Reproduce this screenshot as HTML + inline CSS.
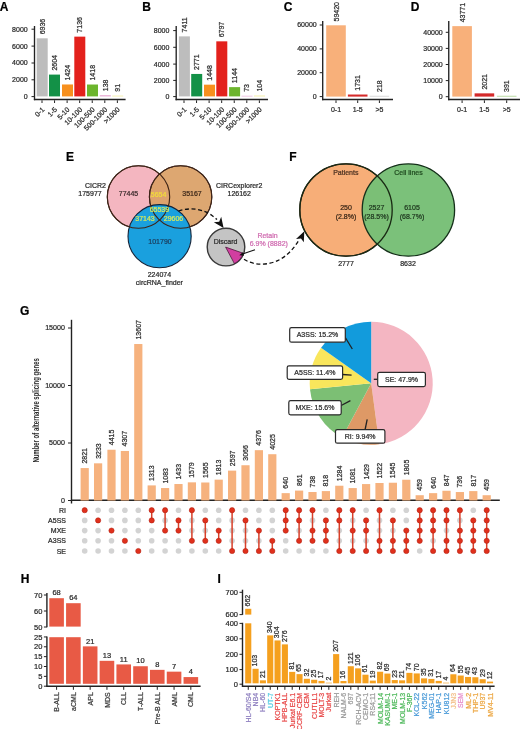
<!DOCTYPE html>
<html><head><meta charset="utf-8"><style>
html,body{margin:0;padding:0;background:#fff;}
body{width:520px;height:729px;overflow:hidden;}
svg{display:block;font-family:"Liberation Sans", sans-serif;will-change:transform;}
</style></head><body>
<svg width="520" height="729" viewBox="0 0 520 729">
<rect x="0" y="0" width="520" height="729" fill="#fff"/>
<text x="-0.30" y="10.60" font-size="12" text-anchor="start" fill="#000" stroke="#000" stroke-width="0.22" font-weight="bold">A</text>
<line x1="34.50" y1="26.00" x2="34.50" y2="100.20" stroke="#222" stroke-width="1.35"/>
<line x1="31.50" y1="29.20" x2="34.50" y2="29.20" stroke="#222" stroke-width="1"/>
<text x="27.70" y="31.60" font-size="7" text-anchor="end" fill="#2a2a2a" stroke="#2a2a2a" stroke-width="0.22">8000</text>
<line x1="31.50" y1="46.10" x2="34.50" y2="46.10" stroke="#222" stroke-width="1"/>
<text x="27.70" y="48.50" font-size="7" text-anchor="end" fill="#2a2a2a" stroke="#2a2a2a" stroke-width="0.22">6000</text>
<line x1="31.50" y1="63.00" x2="34.50" y2="63.00" stroke="#222" stroke-width="1"/>
<text x="27.70" y="65.40" font-size="7" text-anchor="end" fill="#2a2a2a" stroke="#2a2a2a" stroke-width="0.22">4000</text>
<line x1="31.50" y1="79.80" x2="34.50" y2="79.80" stroke="#222" stroke-width="1"/>
<text x="27.70" y="82.20" font-size="7" text-anchor="end" fill="#2a2a2a" stroke="#2a2a2a" stroke-width="0.22">2000</text>
<line x1="31.50" y1="96.60" x2="34.50" y2="96.60" stroke="#222" stroke-width="1"/>
<text x="27.70" y="99.00" font-size="7" text-anchor="end" fill="#2a2a2a" stroke="#2a2a2a" stroke-width="0.22">0</text>
<line x1="33.90" y1="99.60" x2="125.60" y2="99.60" stroke="#222" stroke-width="1.5"/>
<rect x="36.70" y="38.31" width="11.00" height="58.09" fill="#bdbdbd"/>
<text x="44.70" y="34.31" font-size="7" text-anchor="start" fill="#2a2a2a" stroke="#2a2a2a" stroke-width="0.22" transform="rotate(-90 44.70 34.31)">6936</text>
<line x1="42.00" y1="100.30" x2="42.00" y2="103.00" stroke="#222" stroke-width="1"/>
<text x="45.00" y="110.00" font-size="7" text-anchor="end" fill="#2a2a2a" stroke="#2a2a2a" stroke-width="0.22" transform="rotate(-45 45.00 110.00)">0-1</text>
<rect x="49.00" y="74.59" width="11.00" height="21.81" fill="#139147"/>
<text x="57.00" y="70.59" font-size="7" text-anchor="start" fill="#2a2a2a" stroke="#2a2a2a" stroke-width="0.22" transform="rotate(-90 57.00 70.59)">2604</text>
<line x1="54.56" y1="100.30" x2="54.56" y2="103.00" stroke="#222" stroke-width="1"/>
<text x="57.56" y="110.00" font-size="7" text-anchor="end" fill="#2a2a2a" stroke="#2a2a2a" stroke-width="0.22" transform="rotate(-45 57.56 110.00)">1-5</text>
<rect x="62.00" y="84.47" width="11.00" height="11.93" fill="#f7901e"/>
<text x="70.00" y="80.47" font-size="7" text-anchor="start" fill="#2a2a2a" stroke="#2a2a2a" stroke-width="0.22" transform="rotate(-90 70.00 80.47)">1424</text>
<line x1="67.12" y1="100.30" x2="67.12" y2="103.00" stroke="#222" stroke-width="1"/>
<text x="70.12" y="110.00" font-size="7" text-anchor="end" fill="#2a2a2a" stroke="#2a2a2a" stroke-width="0.22" transform="rotate(-45 70.12 110.00)">5-10</text>
<rect x="74.30" y="36.64" width="11.00" height="59.76" fill="#e3211c"/>
<text x="82.30" y="32.64" font-size="7" text-anchor="start" fill="#2a2a2a" stroke="#2a2a2a" stroke-width="0.22" transform="rotate(-90 82.30 32.64)">7136</text>
<line x1="79.68" y1="100.30" x2="79.68" y2="103.00" stroke="#222" stroke-width="1"/>
<text x="82.68" y="110.00" font-size="7" text-anchor="end" fill="#2a2a2a" stroke="#2a2a2a" stroke-width="0.22" transform="rotate(-45 82.68 110.00)">10-100</text>
<rect x="87.00" y="84.52" width="11.00" height="11.88" fill="#6cb52d"/>
<text x="95.00" y="80.52" font-size="7" text-anchor="start" fill="#2a2a2a" stroke="#2a2a2a" stroke-width="0.22" transform="rotate(-90 95.00 80.52)">1418</text>
<line x1="92.24" y1="100.30" x2="92.24" y2="103.00" stroke="#222" stroke-width="1"/>
<text x="95.24" y="110.00" font-size="7" text-anchor="end" fill="#2a2a2a" stroke="#2a2a2a" stroke-width="0.22" transform="rotate(-45 95.24 110.00)">100-500</text>
<rect x="99.80" y="95.24" width="11.00" height="1.16" fill="#e6a3cf"/>
<text x="107.80" y="91.24" font-size="7" text-anchor="start" fill="#2a2a2a" stroke="#2a2a2a" stroke-width="0.22" transform="rotate(-90 107.80 91.24)">138</text>
<line x1="104.80" y1="100.30" x2="104.80" y2="103.00" stroke="#222" stroke-width="1"/>
<text x="107.80" y="110.00" font-size="7" text-anchor="end" fill="#2a2a2a" stroke="#2a2a2a" stroke-width="0.22" transform="rotate(-45 107.80 110.00)">500-1000</text>
<rect x="112.20" y="95.64" width="11.00" height="0.76" fill="#f3ec9a"/>
<text x="120.20" y="91.64" font-size="7" text-anchor="start" fill="#2a2a2a" stroke="#2a2a2a" stroke-width="0.22" transform="rotate(-90 120.20 91.64)">91</text>
<line x1="117.36" y1="100.30" x2="117.36" y2="103.00" stroke="#222" stroke-width="1"/>
<text x="120.36" y="110.00" font-size="7" text-anchor="end" fill="#2a2a2a" stroke="#2a2a2a" stroke-width="0.22" transform="rotate(-45 120.36 110.00)">&gt;1000</text>
<text x="142.30" y="10.60" font-size="12" text-anchor="start" fill="#000" stroke="#000" stroke-width="0.22" font-weight="bold">B</text>
<line x1="176.20" y1="26.00" x2="176.20" y2="100.20" stroke="#222" stroke-width="1.35"/>
<line x1="173.20" y1="30.60" x2="176.20" y2="30.60" stroke="#222" stroke-width="1"/>
<text x="169.40" y="33.00" font-size="7" text-anchor="end" fill="#2a2a2a" stroke="#2a2a2a" stroke-width="0.22">8000</text>
<line x1="173.20" y1="47.30" x2="176.20" y2="47.30" stroke="#222" stroke-width="1"/>
<text x="169.40" y="49.70" font-size="7" text-anchor="end" fill="#2a2a2a" stroke="#2a2a2a" stroke-width="0.22">6000</text>
<line x1="173.20" y1="64.10" x2="176.20" y2="64.10" stroke="#222" stroke-width="1"/>
<text x="169.40" y="66.50" font-size="7" text-anchor="end" fill="#2a2a2a" stroke="#2a2a2a" stroke-width="0.22">4000</text>
<line x1="173.20" y1="80.40" x2="176.20" y2="80.40" stroke="#222" stroke-width="1"/>
<text x="169.40" y="82.80" font-size="7" text-anchor="end" fill="#2a2a2a" stroke="#2a2a2a" stroke-width="0.22">2000</text>
<line x1="173.20" y1="96.60" x2="176.20" y2="96.60" stroke="#222" stroke-width="1"/>
<text x="169.40" y="99.00" font-size="7" text-anchor="end" fill="#2a2a2a" stroke="#2a2a2a" stroke-width="0.22">0</text>
<line x1="175.60" y1="99.60" x2="268.00" y2="99.60" stroke="#222" stroke-width="1.5"/>
<rect x="178.90" y="36.37" width="11.00" height="60.03" fill="#bdbdbd"/>
<text x="186.90" y="32.37" font-size="7" text-anchor="start" fill="#2a2a2a" stroke="#2a2a2a" stroke-width="0.22" transform="rotate(-90 186.90 32.37)">7411</text>
<line x1="184.00" y1="100.30" x2="184.00" y2="103.00" stroke="#222" stroke-width="1"/>
<text x="187.00" y="110.00" font-size="7" text-anchor="end" fill="#2a2a2a" stroke="#2a2a2a" stroke-width="0.22" transform="rotate(-45 187.00 110.00)">0-1</text>
<rect x="191.20" y="73.95" width="11.00" height="22.45" fill="#139147"/>
<text x="199.20" y="69.95" font-size="7" text-anchor="start" fill="#2a2a2a" stroke="#2a2a2a" stroke-width="0.22" transform="rotate(-90 199.20 69.95)">2771</text>
<line x1="196.56" y1="100.30" x2="196.56" y2="103.00" stroke="#222" stroke-width="1"/>
<text x="199.56" y="110.00" font-size="7" text-anchor="end" fill="#2a2a2a" stroke="#2a2a2a" stroke-width="0.22" transform="rotate(-45 199.56 110.00)">1-5</text>
<rect x="204.00" y="84.67" width="11.00" height="11.73" fill="#f7901e"/>
<text x="212.00" y="80.67" font-size="7" text-anchor="start" fill="#2a2a2a" stroke="#2a2a2a" stroke-width="0.22" transform="rotate(-90 212.00 80.67)">1448</text>
<line x1="209.12" y1="100.30" x2="209.12" y2="103.00" stroke="#222" stroke-width="1"/>
<text x="212.12" y="110.00" font-size="7" text-anchor="end" fill="#2a2a2a" stroke="#2a2a2a" stroke-width="0.22" transform="rotate(-45 212.12 110.00)">5-10</text>
<rect x="216.30" y="41.34" width="11.00" height="55.06" fill="#e3211c"/>
<text x="224.30" y="37.34" font-size="7" text-anchor="start" fill="#2a2a2a" stroke="#2a2a2a" stroke-width="0.22" transform="rotate(-90 224.30 37.34)">6797</text>
<line x1="221.68" y1="100.30" x2="221.68" y2="103.00" stroke="#222" stroke-width="1"/>
<text x="224.68" y="110.00" font-size="7" text-anchor="end" fill="#2a2a2a" stroke="#2a2a2a" stroke-width="0.22" transform="rotate(-45 224.68 110.00)">10-100</text>
<rect x="229.10" y="87.13" width="11.00" height="9.27" fill="#6cb52d"/>
<text x="237.10" y="83.13" font-size="7" text-anchor="start" fill="#2a2a2a" stroke="#2a2a2a" stroke-width="0.22" transform="rotate(-90 237.10 83.13)">1144</text>
<line x1="234.24" y1="100.30" x2="234.24" y2="103.00" stroke="#222" stroke-width="1"/>
<text x="237.24" y="110.00" font-size="7" text-anchor="end" fill="#2a2a2a" stroke="#2a2a2a" stroke-width="0.22" transform="rotate(-45 237.24 110.00)">100-500</text>
<rect x="241.50" y="95.81" width="11.00" height="0.59" fill="#e6a3cf"/>
<text x="249.50" y="91.81" font-size="7" text-anchor="start" fill="#2a2a2a" stroke="#2a2a2a" stroke-width="0.22" transform="rotate(-90 249.50 91.81)">73</text>
<line x1="246.80" y1="100.30" x2="246.80" y2="103.00" stroke="#222" stroke-width="1"/>
<text x="249.80" y="110.00" font-size="7" text-anchor="end" fill="#2a2a2a" stroke="#2a2a2a" stroke-width="0.22" transform="rotate(-45 249.80 110.00)">500-1000</text>
<rect x="254.00" y="95.56" width="11.00" height="0.84" fill="#f3ec9a"/>
<text x="262.00" y="91.56" font-size="7" text-anchor="start" fill="#2a2a2a" stroke="#2a2a2a" stroke-width="0.22" transform="rotate(-90 262.00 91.56)">104</text>
<line x1="259.36" y1="100.30" x2="259.36" y2="103.00" stroke="#222" stroke-width="1"/>
<text x="262.36" y="110.00" font-size="7" text-anchor="end" fill="#2a2a2a" stroke="#2a2a2a" stroke-width="0.22" transform="rotate(-45 262.36 110.00)">&gt;1000</text>
<text x="283.80" y="10.80" font-size="12" text-anchor="start" fill="#000" stroke="#000" stroke-width="0.22" font-weight="bold">C</text>
<line x1="322.70" y1="21.00" x2="322.70" y2="100.20" stroke="#222" stroke-width="1.35"/>
<line x1="319.70" y1="25.00" x2="322.70" y2="25.00" stroke="#222" stroke-width="1"/>
<text x="316.70" y="27.40" font-size="7" text-anchor="end" fill="#2a2a2a" stroke="#2a2a2a" stroke-width="0.22">60000</text>
<line x1="319.70" y1="48.90" x2="322.70" y2="48.90" stroke="#222" stroke-width="1"/>
<text x="316.70" y="51.30" font-size="7" text-anchor="end" fill="#2a2a2a" stroke="#2a2a2a" stroke-width="0.22">40000</text>
<line x1="319.70" y1="72.70" x2="322.70" y2="72.70" stroke="#222" stroke-width="1"/>
<text x="316.70" y="75.10" font-size="7" text-anchor="end" fill="#2a2a2a" stroke="#2a2a2a" stroke-width="0.22">20000</text>
<line x1="319.70" y1="96.60" x2="322.70" y2="96.60" stroke="#222" stroke-width="1"/>
<text x="316.70" y="99.00" font-size="7" text-anchor="end" fill="#2a2a2a" stroke="#2a2a2a" stroke-width="0.22">0</text>
<line x1="322.10" y1="99.60" x2="393.00" y2="99.60" stroke="#222" stroke-width="1.5"/>
<rect x="326.20" y="25.30" width="19.60" height="71.30" fill="#f8b07a"/>
<text x="338.50" y="21.50" font-size="7" text-anchor="start" fill="#2a2a2a" stroke="#2a2a2a" stroke-width="0.22" transform="rotate(-90 338.50 21.50)">59420</text>
<line x1="336.00" y1="100.30" x2="336.00" y2="103.00" stroke="#222" stroke-width="1"/>
<text x="336.00" y="111.50" font-size="7" text-anchor="middle" fill="#2a2a2a" stroke="#2a2a2a" stroke-width="0.22">0-1</text>
<rect x="347.90" y="94.52" width="19.60" height="2.08" fill="#d42a2a"/>
<text x="360.20" y="90.72" font-size="7" text-anchor="start" fill="#2a2a2a" stroke="#2a2a2a" stroke-width="0.22" transform="rotate(-90 360.20 90.72)">1731</text>
<line x1="357.70" y1="100.30" x2="357.70" y2="103.00" stroke="#222" stroke-width="1"/>
<text x="357.70" y="111.50" font-size="7" text-anchor="middle" fill="#2a2a2a" stroke="#2a2a2a" stroke-width="0.22">1-5</text>
<rect x="369.60" y="95.80" width="19.60" height="0.80" fill="#cfcfcf"/>
<text x="381.90" y="92.00" font-size="7" text-anchor="start" fill="#2a2a2a" stroke="#2a2a2a" stroke-width="0.22" transform="rotate(-90 381.90 92.00)">218</text>
<line x1="379.40" y1="100.30" x2="379.40" y2="103.00" stroke="#222" stroke-width="1"/>
<text x="379.40" y="111.50" font-size="7" text-anchor="middle" fill="#2a2a2a" stroke="#2a2a2a" stroke-width="0.22">&gt;5</text>
<text x="410.80" y="10.80" font-size="12" text-anchor="start" fill="#000" stroke="#000" stroke-width="0.22" font-weight="bold">D</text>
<line x1="448.75" y1="21.00" x2="448.75" y2="100.20" stroke="#222" stroke-width="1.35"/>
<line x1="445.75" y1="32.30" x2="448.75" y2="32.30" stroke="#222" stroke-width="1"/>
<text x="442.75" y="34.70" font-size="7" text-anchor="end" fill="#2a2a2a" stroke="#2a2a2a" stroke-width="0.22">40000</text>
<line x1="445.75" y1="48.40" x2="448.75" y2="48.40" stroke="#222" stroke-width="1"/>
<text x="442.75" y="50.80" font-size="7" text-anchor="end" fill="#2a2a2a" stroke="#2a2a2a" stroke-width="0.22">30000</text>
<line x1="445.75" y1="64.50" x2="448.75" y2="64.50" stroke="#222" stroke-width="1"/>
<text x="442.75" y="66.90" font-size="7" text-anchor="end" fill="#2a2a2a" stroke="#2a2a2a" stroke-width="0.22">20000</text>
<line x1="445.75" y1="80.60" x2="448.75" y2="80.60" stroke="#222" stroke-width="1"/>
<text x="442.75" y="83.00" font-size="7" text-anchor="end" fill="#2a2a2a" stroke="#2a2a2a" stroke-width="0.22">10000</text>
<line x1="445.75" y1="96.70" x2="448.75" y2="96.70" stroke="#222" stroke-width="1"/>
<text x="442.75" y="99.10" font-size="7" text-anchor="end" fill="#2a2a2a" stroke="#2a2a2a" stroke-width="0.22">0</text>
<line x1="448.15" y1="99.60" x2="520.00" y2="99.60" stroke="#222" stroke-width="1.5"/>
<rect x="452.30" y="26.13" width="19.60" height="70.47" fill="#f8b07a"/>
<text x="464.60" y="22.33" font-size="7" text-anchor="start" fill="#2a2a2a" stroke="#2a2a2a" stroke-width="0.22" transform="rotate(-90 464.60 22.33)">43771</text>
<line x1="462.10" y1="100.30" x2="462.10" y2="103.00" stroke="#222" stroke-width="1"/>
<text x="462.10" y="111.50" font-size="7" text-anchor="middle" fill="#2a2a2a" stroke="#2a2a2a" stroke-width="0.22">0-1</text>
<rect x="474.60" y="93.35" width="19.60" height="3.25" fill="#d42a2a"/>
<text x="486.90" y="89.55" font-size="7" text-anchor="start" fill="#2a2a2a" stroke="#2a2a2a" stroke-width="0.22" transform="rotate(-90 486.90 89.55)">2021</text>
<line x1="484.40" y1="100.30" x2="484.40" y2="103.00" stroke="#222" stroke-width="1"/>
<text x="484.40" y="111.50" font-size="7" text-anchor="middle" fill="#2a2a2a" stroke="#2a2a2a" stroke-width="0.22">1-5</text>
<rect x="496.90" y="95.80" width="19.60" height="0.80" fill="#a9d18e"/>
<text x="509.20" y="92.00" font-size="7" text-anchor="start" fill="#2a2a2a" stroke="#2a2a2a" stroke-width="0.22" transform="rotate(-90 509.20 92.00)">391</text>
<line x1="506.70" y1="100.30" x2="506.70" y2="103.00" stroke="#222" stroke-width="1"/>
<text x="506.70" y="111.50" font-size="7" text-anchor="middle" fill="#2a2a2a" stroke="#2a2a2a" stroke-width="0.22">&gt;5</text>
<text x="66.00" y="161.00" font-size="12" text-anchor="start" fill="#000" stroke="#000" stroke-width="0.22" font-weight="bold">E</text>
<circle cx="138.5" cy="197" r="31.2" fill="#f4b6c0" stroke="#3e2418" stroke-width="1.1"/>
<circle cx="180.6" cy="197" r="31.2" fill="#daa066" fill-opacity="0.93" stroke="#3e2418" stroke-width="1.1"/>
<circle cx="159.6" cy="236.2" r="31.6" fill="#1aa0de" stroke="#14243a" stroke-width="1.1"/>
<circle cx="138.5" cy="197" r="31.2" fill="none" stroke="#3e2418" stroke-width="1.1"/>
<circle cx="180.6" cy="197" r="31.2" fill="none" stroke="#3e2418" stroke-width="1.1"/>
<text x="95.50" y="187.80" font-size="7" text-anchor="middle" fill="#2a2a2a" stroke="#2a2a2a" stroke-width="0.22">CICR2</text>
<text x="90.00" y="196.20" font-size="7" text-anchor="middle" fill="#2a2a2a" stroke="#2a2a2a" stroke-width="0.22">175977</text>
<text x="128.50" y="196.30" font-size="7" text-anchor="middle" fill="#3a2a2a" stroke="#3a2a2a" stroke-width="0.22">77445</text>
<text x="158.60" y="197.00" font-size="7" text-anchor="middle" fill="#f2dd3a" stroke="#f2dd3a" stroke-width="0.22">5654</text>
<text x="192.00" y="196.30" font-size="7" text-anchor="middle" fill="#3a2618" stroke="#3a2618" stroke-width="0.22">35167</text>
<text x="159.40" y="212.10" font-size="7" text-anchor="middle" fill="#d8ea5a" stroke="#d8ea5a" stroke-width="0.22">65539</text>
<text x="145.00" y="221.00" font-size="7" text-anchor="middle" fill="#d8ea5a" stroke="#d8ea5a" stroke-width="0.22">37143</text>
<text x="173.50" y="221.00" font-size="7" text-anchor="middle" fill="#d8ea5a" stroke="#d8ea5a" stroke-width="0.22">29606</text>
<text x="160.00" y="244.30" font-size="7" text-anchor="middle" fill="#1c3c5c" stroke="#1c3c5c" stroke-width="0.22">101790</text>
<text x="239.20" y="187.80" font-size="7" text-anchor="middle" fill="#2a2a2a" stroke="#2a2a2a" stroke-width="0.22">CIRCexplorer2</text>
<text x="239.20" y="196.20" font-size="7" text-anchor="middle" fill="#2a2a2a" stroke="#2a2a2a" stroke-width="0.22">126162</text>
<text x="159.40" y="277.00" font-size="7" text-anchor="middle" fill="#2a2a2a" stroke="#2a2a2a" stroke-width="0.22">224074</text>
<text x="159.40" y="284.80" font-size="7" text-anchor="middle" fill="#2a2a2a" stroke="#2a2a2a" stroke-width="0.22">circRNA_finder</text>
<path d="M178.5 211 C190 207 203 209 212 215.5 L217 219.5" fill="none" stroke="#111" stroke-width="1.3" stroke-dasharray="4 2.6"/>
<path d="M223.6 228 L213.8 222.2 L219.2 221.8 L221.2 216.8 Z" fill="#111"/>
<circle cx="226" cy="247.1" r="18.8" fill="#c4c4c4" stroke="#3a3a3a" stroke-width="1.4"/>
<path d="M225.6 247.1 L243.3 253.3 A18.8 18.8 0 0 1 234.4 263.6 Z" fill="#d23ea0" stroke="#4a1a3a" stroke-width="0.8"/>
<text x="225.60" y="243.80" font-size="7" text-anchor="middle" fill="#2a2a2a" stroke="#2a2a2a" stroke-width="0.22">Discard</text>
<path d="M255 249.8 L242.5 254.1" fill="none" stroke="#111" stroke-width="1.1"/>
<path d="M239.3 255.3 L242.7 252.2 L243.9 255.7 Z" fill="#111"/>
<text x="267.50" y="238.00" font-size="7" text-anchor="middle" fill="#d06cb0" stroke="#d06cb0" stroke-width="0.22">Retain</text>
<text x="268.80" y="246.20" font-size="7" text-anchor="middle" fill="#d06cb0" stroke="#d06cb0" stroke-width="0.22">6.9% (8882)</text>
<path d="M244 259.3 C252 264.5 262 265 270 263.2 C284 260 293 250 299 240" fill="none" stroke="#111" stroke-width="1.3" stroke-dasharray="4 2.6"/>
<path d="M304.3 231.3 L303.8 242.3 L301.0 238.6 L296.0 238.9 Z" fill="#111"/>
<text x="289.30" y="160.70" font-size="12" text-anchor="start" fill="#000" stroke="#000" stroke-width="0.22" font-weight="bold">F</text>
<circle cx="346" cy="210" r="46.2" fill="#f7ae78" stroke="#2a1a10" stroke-width="1.3"/>
<circle cx="408.4" cy="210" r="46.2" fill="#77bf76" fill-opacity="0.97" stroke="#15301a" stroke-width="1.3"/>
<circle cx="346" cy="210" r="46.2" fill="none" stroke="#1a2a14" stroke-width="1.3"/>
<text x="345.80" y="175.40" font-size="7" text-anchor="middle" fill="#4a3020" stroke="#4a3020" stroke-width="0.22">Patients</text>
<text x="408.50" y="175.40" font-size="7" text-anchor="middle" fill="#1f4a1f" stroke="#1f4a1f" stroke-width="0.22">Cell lines</text>
<text x="346.00" y="210.20" font-size="7" text-anchor="middle" fill="#3a2616" stroke="#3a2616" stroke-width="0.22">250</text>
<text x="346.00" y="219.40" font-size="7" text-anchor="middle" fill="#3a2616" stroke="#3a2616" stroke-width="0.22">(2.8%)</text>
<text x="376.50" y="210.20" font-size="7" text-anchor="middle" fill="#1e361e" stroke="#1e361e" stroke-width="0.22">2527</text>
<text x="376.50" y="219.40" font-size="7" text-anchor="middle" fill="#1e361e" stroke="#1e361e" stroke-width="0.22">(28.5%)</text>
<text x="412.00" y="210.20" font-size="7" text-anchor="middle" fill="#1e361e" stroke="#1e361e" stroke-width="0.22">6105</text>
<text x="412.00" y="219.40" font-size="7" text-anchor="middle" fill="#1e361e" stroke="#1e361e" stroke-width="0.22">(68.7%)</text>
<text x="346.00" y="266.30" font-size="7" text-anchor="middle" fill="#2a2a2a" stroke="#2a2a2a" stroke-width="0.22">2777</text>
<text x="408.00" y="266.30" font-size="7" text-anchor="middle" fill="#2a2a2a" stroke="#2a2a2a" stroke-width="0.22">8632</text>
<text x="20.00" y="314.60" font-size="12" text-anchor="start" fill="#000" stroke="#000" stroke-width="0.22" font-weight="bold">G</text>
<line x1="71.50" y1="319.80" x2="71.50" y2="503.50" stroke="#222" stroke-width="1.4"/>
<line x1="68.00" y1="328.00" x2="71.50" y2="328.00" stroke="#222" stroke-width="1"/>
<text x="64.90" y="330.40" font-size="7.1" text-anchor="end" fill="#2a2a2a" stroke="#2a2a2a" stroke-width="0.22">15000</text>
<line x1="68.00" y1="385.50" x2="71.50" y2="385.50" stroke="#222" stroke-width="1"/>
<text x="64.90" y="387.90" font-size="7.1" text-anchor="end" fill="#2a2a2a" stroke="#2a2a2a" stroke-width="0.22">10000</text>
<line x1="68.00" y1="443.00" x2="71.50" y2="443.00" stroke="#222" stroke-width="1"/>
<text x="64.90" y="445.40" font-size="7.1" text-anchor="end" fill="#2a2a2a" stroke="#2a2a2a" stroke-width="0.22">5000</text>
<line x1="68.00" y1="500.50" x2="71.50" y2="500.50" stroke="#222" stroke-width="1"/>
<text x="64.90" y="502.90" font-size="7.1" text-anchor="end" fill="#2a2a2a" stroke="#2a2a2a" stroke-width="0.22">0</text>
<line x1="70.90" y1="500.20" x2="499.80" y2="500.20" stroke="#222" stroke-width="1.5"/>
<text x="0" y="0" font-size="9.6" font-weight="bold" text-anchor="middle" fill="#2a2a2a" transform="translate(38.6 410.4) rotate(-90) scale(0.622 1)">Number of alternative splicing genes</text>
<text x="66.00" y="512.70" font-size="7" text-anchor="end" fill="#2a2a2a" stroke="#2a2a2a" stroke-width="0.22">RI</text>
<text x="66.00" y="522.90" font-size="7" text-anchor="end" fill="#2a2a2a" stroke="#2a2a2a" stroke-width="0.22">A5SS</text>
<text x="66.00" y="533.10" font-size="7" text-anchor="end" fill="#2a2a2a" stroke="#2a2a2a" stroke-width="0.22">MXE</text>
<text x="66.00" y="543.30" font-size="7" text-anchor="end" fill="#2a2a2a" stroke="#2a2a2a" stroke-width="0.22">A3SS</text>
<text x="66.00" y="553.50" font-size="7" text-anchor="end" fill="#2a2a2a" stroke="#2a2a2a" stroke-width="0.22">SE</text>
<rect x="80.60" y="468.06" width="8.20" height="32.44" fill="#f6b27e"/>
<text x="87.20" y="463.56" font-size="7" text-anchor="start" fill="#2a2a2a" stroke="#2a2a2a" stroke-width="0.22" transform="rotate(-90 87.20 463.56)">2821</text>
<circle cx="84.70" cy="520.4" r="2.8" fill="#d3d3d3"/>
<circle cx="84.70" cy="530.6" r="2.8" fill="#d3d3d3"/>
<circle cx="84.70" cy="540.8" r="2.8" fill="#d3d3d3"/>
<circle cx="84.70" cy="551.0" r="2.8" fill="#d3d3d3"/>
<circle cx="84.70" cy="510.2" r="2.6" fill="#e0301c" stroke="#b52212" stroke-width="0.6"/>
<rect x="94.00" y="463.32" width="8.20" height="37.18" fill="#f6b27e"/>
<text x="100.60" y="458.82" font-size="7" text-anchor="start" fill="#2a2a2a" stroke="#2a2a2a" stroke-width="0.22" transform="rotate(-90 100.60 458.82)">3233</text>
<circle cx="98.10" cy="510.2" r="2.8" fill="#d3d3d3"/>
<circle cx="98.10" cy="530.6" r="2.8" fill="#d3d3d3"/>
<circle cx="98.10" cy="540.8" r="2.8" fill="#d3d3d3"/>
<circle cx="98.10" cy="551.0" r="2.8" fill="#d3d3d3"/>
<circle cx="98.10" cy="520.4" r="2.6" fill="#e0301c" stroke="#b52212" stroke-width="0.6"/>
<rect x="107.40" y="449.73" width="8.20" height="50.77" fill="#f6b27e"/>
<text x="114.00" y="445.23" font-size="7" text-anchor="start" fill="#2a2a2a" stroke="#2a2a2a" stroke-width="0.22" transform="rotate(-90 114.00 445.23)">4415</text>
<circle cx="111.50" cy="510.2" r="2.8" fill="#d3d3d3"/>
<circle cx="111.50" cy="520.4" r="2.8" fill="#d3d3d3"/>
<circle cx="111.50" cy="540.8" r="2.8" fill="#d3d3d3"/>
<circle cx="111.50" cy="551.0" r="2.8" fill="#d3d3d3"/>
<circle cx="111.50" cy="530.6" r="2.6" fill="#e0301c" stroke="#b52212" stroke-width="0.6"/>
<rect x="120.80" y="450.97" width="8.20" height="49.53" fill="#f6b27e"/>
<text x="127.40" y="446.47" font-size="7" text-anchor="start" fill="#2a2a2a" stroke="#2a2a2a" stroke-width="0.22" transform="rotate(-90 127.40 446.47)">4307</text>
<circle cx="124.90" cy="510.2" r="2.8" fill="#d3d3d3"/>
<circle cx="124.90" cy="520.4" r="2.8" fill="#d3d3d3"/>
<circle cx="124.90" cy="530.6" r="2.8" fill="#d3d3d3"/>
<circle cx="124.90" cy="551.0" r="2.8" fill="#d3d3d3"/>
<circle cx="124.90" cy="540.8" r="2.6" fill="#e0301c" stroke="#b52212" stroke-width="0.6"/>
<rect x="134.20" y="344.02" width="8.20" height="156.48" fill="#f6b27e"/>
<text x="140.80" y="339.52" font-size="7" text-anchor="start" fill="#2a2a2a" stroke="#2a2a2a" stroke-width="0.22" transform="rotate(-90 140.80 339.52)">13607</text>
<circle cx="138.30" cy="510.2" r="2.8" fill="#d3d3d3"/>
<circle cx="138.30" cy="520.4" r="2.8" fill="#d3d3d3"/>
<circle cx="138.30" cy="530.6" r="2.8" fill="#d3d3d3"/>
<circle cx="138.30" cy="540.8" r="2.8" fill="#d3d3d3"/>
<circle cx="138.30" cy="551.0" r="2.6" fill="#e0301c" stroke="#b52212" stroke-width="0.6"/>
<rect x="147.60" y="485.40" width="8.20" height="15.10" fill="#f6b27e"/>
<text x="154.20" y="480.90" font-size="7" text-anchor="start" fill="#2a2a2a" stroke="#2a2a2a" stroke-width="0.22" transform="rotate(-90 154.20 480.90)">1313</text>
<circle cx="151.70" cy="530.6" r="2.8" fill="#d3d3d3"/>
<circle cx="151.70" cy="540.8" r="2.8" fill="#d3d3d3"/>
<circle cx="151.70" cy="551.0" r="2.8" fill="#d3d3d3"/>
<line x1="151.70" y1="510.20" x2="151.70" y2="520.40" stroke="#d8402a" stroke-width="1.5"/>
<circle cx="151.70" cy="510.2" r="2.6" fill="#e0301c" stroke="#b52212" stroke-width="0.6"/>
<circle cx="151.70" cy="520.4" r="2.6" fill="#e0301c" stroke="#b52212" stroke-width="0.6"/>
<rect x="161.00" y="488.05" width="8.20" height="12.45" fill="#f6b27e"/>
<text x="167.60" y="483.55" font-size="7" text-anchor="start" fill="#2a2a2a" stroke="#2a2a2a" stroke-width="0.22" transform="rotate(-90 167.60 483.55)">1083</text>
<circle cx="165.10" cy="520.4" r="2.8" fill="#d3d3d3"/>
<circle cx="165.10" cy="540.8" r="2.8" fill="#d3d3d3"/>
<circle cx="165.10" cy="551.0" r="2.8" fill="#d3d3d3"/>
<line x1="165.10" y1="510.20" x2="165.10" y2="530.60" stroke="#d8402a" stroke-width="1.5"/>
<circle cx="165.10" cy="510.2" r="2.6" fill="#e0301c" stroke="#b52212" stroke-width="0.6"/>
<circle cx="165.10" cy="530.6" r="2.6" fill="#e0301c" stroke="#b52212" stroke-width="0.6"/>
<rect x="174.40" y="484.02" width="8.20" height="16.48" fill="#f6b27e"/>
<text x="181.00" y="479.52" font-size="7" text-anchor="start" fill="#2a2a2a" stroke="#2a2a2a" stroke-width="0.22" transform="rotate(-90 181.00 479.52)">1433</text>
<circle cx="178.50" cy="510.2" r="2.8" fill="#d3d3d3"/>
<circle cx="178.50" cy="540.8" r="2.8" fill="#d3d3d3"/>
<circle cx="178.50" cy="551.0" r="2.8" fill="#d3d3d3"/>
<line x1="178.50" y1="520.40" x2="178.50" y2="530.60" stroke="#d8402a" stroke-width="1.5"/>
<circle cx="178.50" cy="520.4" r="2.6" fill="#e0301c" stroke="#b52212" stroke-width="0.6"/>
<circle cx="178.50" cy="530.6" r="2.6" fill="#e0301c" stroke="#b52212" stroke-width="0.6"/>
<rect x="187.80" y="482.34" width="8.20" height="18.16" fill="#f6b27e"/>
<text x="194.40" y="477.84" font-size="7" text-anchor="start" fill="#2a2a2a" stroke="#2a2a2a" stroke-width="0.22" transform="rotate(-90 194.40 477.84)">1579</text>
<circle cx="191.90" cy="520.4" r="2.8" fill="#d3d3d3"/>
<circle cx="191.90" cy="530.6" r="2.8" fill="#d3d3d3"/>
<circle cx="191.90" cy="551.0" r="2.8" fill="#d3d3d3"/>
<line x1="191.90" y1="510.20" x2="191.90" y2="540.80" stroke="#d8402a" stroke-width="1.5"/>
<circle cx="191.90" cy="510.2" r="2.6" fill="#e0301c" stroke="#b52212" stroke-width="0.6"/>
<circle cx="191.90" cy="540.8" r="2.6" fill="#e0301c" stroke="#b52212" stroke-width="0.6"/>
<rect x="201.20" y="482.50" width="8.20" height="18.00" fill="#f6b27e"/>
<text x="207.80" y="478.00" font-size="7" text-anchor="start" fill="#2a2a2a" stroke="#2a2a2a" stroke-width="0.22" transform="rotate(-90 207.80 478.00)">1565</text>
<circle cx="205.30" cy="510.2" r="2.8" fill="#d3d3d3"/>
<circle cx="205.30" cy="530.6" r="2.8" fill="#d3d3d3"/>
<circle cx="205.30" cy="551.0" r="2.8" fill="#d3d3d3"/>
<line x1="205.30" y1="520.40" x2="205.30" y2="540.80" stroke="#d8402a" stroke-width="1.5"/>
<circle cx="205.30" cy="520.4" r="2.6" fill="#e0301c" stroke="#b52212" stroke-width="0.6"/>
<circle cx="205.30" cy="540.8" r="2.6" fill="#e0301c" stroke="#b52212" stroke-width="0.6"/>
<rect x="214.60" y="479.65" width="8.20" height="20.85" fill="#f6b27e"/>
<text x="221.20" y="475.15" font-size="7" text-anchor="start" fill="#2a2a2a" stroke="#2a2a2a" stroke-width="0.22" transform="rotate(-90 221.20 475.15)">1813</text>
<circle cx="218.70" cy="510.2" r="2.8" fill="#d3d3d3"/>
<circle cx="218.70" cy="520.4" r="2.8" fill="#d3d3d3"/>
<circle cx="218.70" cy="551.0" r="2.8" fill="#d3d3d3"/>
<line x1="218.70" y1="530.60" x2="218.70" y2="540.80" stroke="#d8402a" stroke-width="1.5"/>
<circle cx="218.70" cy="530.6" r="2.6" fill="#e0301c" stroke="#b52212" stroke-width="0.6"/>
<circle cx="218.70" cy="540.8" r="2.6" fill="#e0301c" stroke="#b52212" stroke-width="0.6"/>
<rect x="228.00" y="470.63" width="8.20" height="29.87" fill="#f6b27e"/>
<text x="234.60" y="466.13" font-size="7" text-anchor="start" fill="#2a2a2a" stroke="#2a2a2a" stroke-width="0.22" transform="rotate(-90 234.60 466.13)">2597</text>
<circle cx="232.10" cy="520.4" r="2.8" fill="#d3d3d3"/>
<circle cx="232.10" cy="530.6" r="2.8" fill="#d3d3d3"/>
<circle cx="232.10" cy="540.8" r="2.8" fill="#d3d3d3"/>
<line x1="232.10" y1="510.20" x2="232.10" y2="551.00" stroke="#d8402a" stroke-width="1.5"/>
<circle cx="232.10" cy="510.2" r="2.6" fill="#e0301c" stroke="#b52212" stroke-width="0.6"/>
<circle cx="232.10" cy="551.0" r="2.6" fill="#e0301c" stroke="#b52212" stroke-width="0.6"/>
<rect x="241.40" y="465.24" width="8.20" height="35.26" fill="#f6b27e"/>
<text x="248.00" y="460.74" font-size="7" text-anchor="start" fill="#2a2a2a" stroke="#2a2a2a" stroke-width="0.22" transform="rotate(-90 248.00 460.74)">3066</text>
<circle cx="245.50" cy="510.2" r="2.8" fill="#d3d3d3"/>
<circle cx="245.50" cy="530.6" r="2.8" fill="#d3d3d3"/>
<circle cx="245.50" cy="540.8" r="2.8" fill="#d3d3d3"/>
<line x1="245.50" y1="520.40" x2="245.50" y2="551.00" stroke="#d8402a" stroke-width="1.5"/>
<circle cx="245.50" cy="520.4" r="2.6" fill="#e0301c" stroke="#b52212" stroke-width="0.6"/>
<circle cx="245.50" cy="551.0" r="2.6" fill="#e0301c" stroke="#b52212" stroke-width="0.6"/>
<rect x="254.80" y="450.18" width="8.20" height="50.32" fill="#f6b27e"/>
<text x="261.40" y="445.68" font-size="7" text-anchor="start" fill="#2a2a2a" stroke="#2a2a2a" stroke-width="0.22" transform="rotate(-90 261.40 445.68)">4376</text>
<circle cx="258.90" cy="510.2" r="2.8" fill="#d3d3d3"/>
<circle cx="258.90" cy="520.4" r="2.8" fill="#d3d3d3"/>
<circle cx="258.90" cy="540.8" r="2.8" fill="#d3d3d3"/>
<line x1="258.90" y1="530.60" x2="258.90" y2="551.00" stroke="#d8402a" stroke-width="1.5"/>
<circle cx="258.90" cy="530.6" r="2.6" fill="#e0301c" stroke="#b52212" stroke-width="0.6"/>
<circle cx="258.90" cy="551.0" r="2.6" fill="#e0301c" stroke="#b52212" stroke-width="0.6"/>
<rect x="268.20" y="454.21" width="8.20" height="46.29" fill="#f6b27e"/>
<text x="274.80" y="449.71" font-size="7" text-anchor="start" fill="#2a2a2a" stroke="#2a2a2a" stroke-width="0.22" transform="rotate(-90 274.80 449.71)">4025</text>
<circle cx="272.30" cy="510.2" r="2.8" fill="#d3d3d3"/>
<circle cx="272.30" cy="520.4" r="2.8" fill="#d3d3d3"/>
<circle cx="272.30" cy="530.6" r="2.8" fill="#d3d3d3"/>
<line x1="272.30" y1="540.80" x2="272.30" y2="551.00" stroke="#d8402a" stroke-width="1.5"/>
<circle cx="272.30" cy="540.8" r="2.6" fill="#e0301c" stroke="#b52212" stroke-width="0.6"/>
<circle cx="272.30" cy="551.0" r="2.6" fill="#e0301c" stroke="#b52212" stroke-width="0.6"/>
<rect x="281.60" y="493.14" width="8.20" height="7.36" fill="#f6b27e"/>
<text x="288.20" y="488.64" font-size="7" text-anchor="start" fill="#2a2a2a" stroke="#2a2a2a" stroke-width="0.22" transform="rotate(-90 288.20 488.64)">640</text>
<circle cx="285.70" cy="540.8" r="2.8" fill="#d3d3d3"/>
<circle cx="285.70" cy="551.0" r="2.8" fill="#d3d3d3"/>
<line x1="285.70" y1="510.20" x2="285.70" y2="530.60" stroke="#d8402a" stroke-width="1.5"/>
<circle cx="285.70" cy="510.2" r="2.6" fill="#e0301c" stroke="#b52212" stroke-width="0.6"/>
<circle cx="285.70" cy="520.4" r="2.6" fill="#e0301c" stroke="#b52212" stroke-width="0.6"/>
<circle cx="285.70" cy="530.6" r="2.6" fill="#e0301c" stroke="#b52212" stroke-width="0.6"/>
<rect x="295.00" y="490.60" width="8.20" height="9.90" fill="#f6b27e"/>
<text x="301.60" y="486.10" font-size="7" text-anchor="start" fill="#2a2a2a" stroke="#2a2a2a" stroke-width="0.22" transform="rotate(-90 301.60 486.10)">861</text>
<circle cx="299.10" cy="530.6" r="2.8" fill="#d3d3d3"/>
<circle cx="299.10" cy="551.0" r="2.8" fill="#d3d3d3"/>
<line x1="299.10" y1="510.20" x2="299.10" y2="540.80" stroke="#d8402a" stroke-width="1.5"/>
<circle cx="299.10" cy="510.2" r="2.6" fill="#e0301c" stroke="#b52212" stroke-width="0.6"/>
<circle cx="299.10" cy="520.4" r="2.6" fill="#e0301c" stroke="#b52212" stroke-width="0.6"/>
<circle cx="299.10" cy="540.8" r="2.6" fill="#e0301c" stroke="#b52212" stroke-width="0.6"/>
<rect x="308.40" y="492.01" width="8.20" height="8.49" fill="#f6b27e"/>
<text x="315.00" y="487.51" font-size="7" text-anchor="start" fill="#2a2a2a" stroke="#2a2a2a" stroke-width="0.22" transform="rotate(-90 315.00 487.51)">738</text>
<circle cx="312.50" cy="520.4" r="2.8" fill="#d3d3d3"/>
<circle cx="312.50" cy="551.0" r="2.8" fill="#d3d3d3"/>
<line x1="312.50" y1="510.20" x2="312.50" y2="540.80" stroke="#d8402a" stroke-width="1.5"/>
<circle cx="312.50" cy="510.2" r="2.6" fill="#e0301c" stroke="#b52212" stroke-width="0.6"/>
<circle cx="312.50" cy="530.6" r="2.6" fill="#e0301c" stroke="#b52212" stroke-width="0.6"/>
<circle cx="312.50" cy="540.8" r="2.6" fill="#e0301c" stroke="#b52212" stroke-width="0.6"/>
<rect x="321.80" y="491.09" width="8.20" height="9.41" fill="#f6b27e"/>
<text x="328.40" y="486.59" font-size="7" text-anchor="start" fill="#2a2a2a" stroke="#2a2a2a" stroke-width="0.22" transform="rotate(-90 328.40 486.59)">818</text>
<circle cx="325.90" cy="510.2" r="2.8" fill="#d3d3d3"/>
<circle cx="325.90" cy="551.0" r="2.8" fill="#d3d3d3"/>
<line x1="325.90" y1="520.40" x2="325.90" y2="540.80" stroke="#d8402a" stroke-width="1.5"/>
<circle cx="325.90" cy="520.4" r="2.6" fill="#e0301c" stroke="#b52212" stroke-width="0.6"/>
<circle cx="325.90" cy="530.6" r="2.6" fill="#e0301c" stroke="#b52212" stroke-width="0.6"/>
<circle cx="325.90" cy="540.8" r="2.6" fill="#e0301c" stroke="#b52212" stroke-width="0.6"/>
<rect x="335.20" y="485.73" width="8.20" height="14.77" fill="#f6b27e"/>
<text x="341.80" y="481.23" font-size="7" text-anchor="start" fill="#2a2a2a" stroke="#2a2a2a" stroke-width="0.22" transform="rotate(-90 341.80 481.23)">1284</text>
<circle cx="339.30" cy="530.6" r="2.8" fill="#d3d3d3"/>
<circle cx="339.30" cy="540.8" r="2.8" fill="#d3d3d3"/>
<line x1="339.30" y1="510.20" x2="339.30" y2="551.00" stroke="#d8402a" stroke-width="1.5"/>
<circle cx="339.30" cy="510.2" r="2.6" fill="#e0301c" stroke="#b52212" stroke-width="0.6"/>
<circle cx="339.30" cy="520.4" r="2.6" fill="#e0301c" stroke="#b52212" stroke-width="0.6"/>
<circle cx="339.30" cy="551.0" r="2.6" fill="#e0301c" stroke="#b52212" stroke-width="0.6"/>
<rect x="348.60" y="488.07" width="8.20" height="12.43" fill="#f6b27e"/>
<text x="355.20" y="483.57" font-size="7" text-anchor="start" fill="#2a2a2a" stroke="#2a2a2a" stroke-width="0.22" transform="rotate(-90 355.20 483.57)">1081</text>
<circle cx="352.70" cy="520.4" r="2.8" fill="#d3d3d3"/>
<circle cx="352.70" cy="540.8" r="2.8" fill="#d3d3d3"/>
<line x1="352.70" y1="510.20" x2="352.70" y2="551.00" stroke="#d8402a" stroke-width="1.5"/>
<circle cx="352.70" cy="510.2" r="2.6" fill="#e0301c" stroke="#b52212" stroke-width="0.6"/>
<circle cx="352.70" cy="530.6" r="2.6" fill="#e0301c" stroke="#b52212" stroke-width="0.6"/>
<circle cx="352.70" cy="551.0" r="2.6" fill="#e0301c" stroke="#b52212" stroke-width="0.6"/>
<rect x="362.00" y="484.07" width="8.20" height="16.43" fill="#f6b27e"/>
<text x="368.60" y="479.57" font-size="7" text-anchor="start" fill="#2a2a2a" stroke="#2a2a2a" stroke-width="0.22" transform="rotate(-90 368.60 479.57)">1429</text>
<circle cx="366.10" cy="510.2" r="2.8" fill="#d3d3d3"/>
<circle cx="366.10" cy="540.8" r="2.8" fill="#d3d3d3"/>
<line x1="366.10" y1="520.40" x2="366.10" y2="551.00" stroke="#d8402a" stroke-width="1.5"/>
<circle cx="366.10" cy="520.4" r="2.6" fill="#e0301c" stroke="#b52212" stroke-width="0.6"/>
<circle cx="366.10" cy="530.6" r="2.6" fill="#e0301c" stroke="#b52212" stroke-width="0.6"/>
<circle cx="366.10" cy="551.0" r="2.6" fill="#e0301c" stroke="#b52212" stroke-width="0.6"/>
<rect x="375.40" y="483.00" width="8.20" height="17.50" fill="#f6b27e"/>
<text x="382.00" y="478.50" font-size="7" text-anchor="start" fill="#2a2a2a" stroke="#2a2a2a" stroke-width="0.22" transform="rotate(-90 382.00 478.50)">1522</text>
<circle cx="379.50" cy="520.4" r="2.8" fill="#d3d3d3"/>
<circle cx="379.50" cy="530.6" r="2.8" fill="#d3d3d3"/>
<line x1="379.50" y1="510.20" x2="379.50" y2="551.00" stroke="#d8402a" stroke-width="1.5"/>
<circle cx="379.50" cy="510.2" r="2.6" fill="#e0301c" stroke="#b52212" stroke-width="0.6"/>
<circle cx="379.50" cy="540.8" r="2.6" fill="#e0301c" stroke="#b52212" stroke-width="0.6"/>
<circle cx="379.50" cy="551.0" r="2.6" fill="#e0301c" stroke="#b52212" stroke-width="0.6"/>
<rect x="388.80" y="482.73" width="8.20" height="17.77" fill="#f6b27e"/>
<text x="395.40" y="478.23" font-size="7" text-anchor="start" fill="#2a2a2a" stroke="#2a2a2a" stroke-width="0.22" transform="rotate(-90 395.40 478.23)">1545</text>
<circle cx="392.90" cy="510.2" r="2.8" fill="#d3d3d3"/>
<circle cx="392.90" cy="530.6" r="2.8" fill="#d3d3d3"/>
<line x1="392.90" y1="520.40" x2="392.90" y2="551.00" stroke="#d8402a" stroke-width="1.5"/>
<circle cx="392.90" cy="520.4" r="2.6" fill="#e0301c" stroke="#b52212" stroke-width="0.6"/>
<circle cx="392.90" cy="540.8" r="2.6" fill="#e0301c" stroke="#b52212" stroke-width="0.6"/>
<circle cx="392.90" cy="551.0" r="2.6" fill="#e0301c" stroke="#b52212" stroke-width="0.6"/>
<rect x="402.20" y="479.74" width="8.20" height="20.76" fill="#f6b27e"/>
<text x="408.80" y="475.24" font-size="7" text-anchor="start" fill="#2a2a2a" stroke="#2a2a2a" stroke-width="0.22" transform="rotate(-90 408.80 475.24)">1805</text>
<circle cx="406.30" cy="510.2" r="2.8" fill="#d3d3d3"/>
<circle cx="406.30" cy="520.4" r="2.8" fill="#d3d3d3"/>
<line x1="406.30" y1="530.60" x2="406.30" y2="551.00" stroke="#d8402a" stroke-width="1.5"/>
<circle cx="406.30" cy="530.6" r="2.6" fill="#e0301c" stroke="#b52212" stroke-width="0.6"/>
<circle cx="406.30" cy="540.8" r="2.6" fill="#e0301c" stroke="#b52212" stroke-width="0.6"/>
<circle cx="406.30" cy="551.0" r="2.6" fill="#e0301c" stroke="#b52212" stroke-width="0.6"/>
<rect x="415.60" y="495.22" width="8.20" height="5.28" fill="#f6b27e"/>
<text x="422.20" y="490.72" font-size="7" text-anchor="start" fill="#2a2a2a" stroke="#2a2a2a" stroke-width="0.22" transform="rotate(-90 422.20 490.72)">459</text>
<circle cx="419.70" cy="551.0" r="2.8" fill="#d3d3d3"/>
<line x1="419.70" y1="510.20" x2="419.70" y2="540.80" stroke="#d8402a" stroke-width="1.5"/>
<circle cx="419.70" cy="510.2" r="2.6" fill="#e0301c" stroke="#b52212" stroke-width="0.6"/>
<circle cx="419.70" cy="520.4" r="2.6" fill="#e0301c" stroke="#b52212" stroke-width="0.6"/>
<circle cx="419.70" cy="530.6" r="2.6" fill="#e0301c" stroke="#b52212" stroke-width="0.6"/>
<circle cx="419.70" cy="540.8" r="2.6" fill="#e0301c" stroke="#b52212" stroke-width="0.6"/>
<rect x="429.00" y="493.14" width="8.20" height="7.36" fill="#f6b27e"/>
<text x="435.60" y="488.64" font-size="7" text-anchor="start" fill="#2a2a2a" stroke="#2a2a2a" stroke-width="0.22" transform="rotate(-90 435.60 488.64)">640</text>
<circle cx="433.10" cy="540.8" r="2.8" fill="#d3d3d3"/>
<line x1="433.10" y1="510.20" x2="433.10" y2="551.00" stroke="#d8402a" stroke-width="1.5"/>
<circle cx="433.10" cy="510.2" r="2.6" fill="#e0301c" stroke="#b52212" stroke-width="0.6"/>
<circle cx="433.10" cy="520.4" r="2.6" fill="#e0301c" stroke="#b52212" stroke-width="0.6"/>
<circle cx="433.10" cy="530.6" r="2.6" fill="#e0301c" stroke="#b52212" stroke-width="0.6"/>
<circle cx="433.10" cy="551.0" r="2.6" fill="#e0301c" stroke="#b52212" stroke-width="0.6"/>
<rect x="442.40" y="490.76" width="8.20" height="9.74" fill="#f6b27e"/>
<text x="449.00" y="486.26" font-size="7" text-anchor="start" fill="#2a2a2a" stroke="#2a2a2a" stroke-width="0.22" transform="rotate(-90 449.00 486.26)">847</text>
<circle cx="446.50" cy="530.6" r="2.8" fill="#d3d3d3"/>
<line x1="446.50" y1="510.20" x2="446.50" y2="551.00" stroke="#d8402a" stroke-width="1.5"/>
<circle cx="446.50" cy="510.2" r="2.6" fill="#e0301c" stroke="#b52212" stroke-width="0.6"/>
<circle cx="446.50" cy="520.4" r="2.6" fill="#e0301c" stroke="#b52212" stroke-width="0.6"/>
<circle cx="446.50" cy="540.8" r="2.6" fill="#e0301c" stroke="#b52212" stroke-width="0.6"/>
<circle cx="446.50" cy="551.0" r="2.6" fill="#e0301c" stroke="#b52212" stroke-width="0.6"/>
<rect x="455.80" y="492.04" width="8.20" height="8.46" fill="#f6b27e"/>
<text x="462.40" y="487.54" font-size="7" text-anchor="start" fill="#2a2a2a" stroke="#2a2a2a" stroke-width="0.22" transform="rotate(-90 462.40 487.54)">736</text>
<circle cx="459.90" cy="520.4" r="2.8" fill="#d3d3d3"/>
<line x1="459.90" y1="510.20" x2="459.90" y2="551.00" stroke="#d8402a" stroke-width="1.5"/>
<circle cx="459.90" cy="510.2" r="2.6" fill="#e0301c" stroke="#b52212" stroke-width="0.6"/>
<circle cx="459.90" cy="530.6" r="2.6" fill="#e0301c" stroke="#b52212" stroke-width="0.6"/>
<circle cx="459.90" cy="540.8" r="2.6" fill="#e0301c" stroke="#b52212" stroke-width="0.6"/>
<circle cx="459.90" cy="551.0" r="2.6" fill="#e0301c" stroke="#b52212" stroke-width="0.6"/>
<rect x="469.20" y="491.10" width="8.20" height="9.40" fill="#f6b27e"/>
<text x="475.80" y="486.60" font-size="7" text-anchor="start" fill="#2a2a2a" stroke="#2a2a2a" stroke-width="0.22" transform="rotate(-90 475.80 486.60)">817</text>
<circle cx="473.30" cy="510.2" r="2.8" fill="#d3d3d3"/>
<line x1="473.30" y1="520.40" x2="473.30" y2="551.00" stroke="#d8402a" stroke-width="1.5"/>
<circle cx="473.30" cy="520.4" r="2.6" fill="#e0301c" stroke="#b52212" stroke-width="0.6"/>
<circle cx="473.30" cy="530.6" r="2.6" fill="#e0301c" stroke="#b52212" stroke-width="0.6"/>
<circle cx="473.30" cy="540.8" r="2.6" fill="#e0301c" stroke="#b52212" stroke-width="0.6"/>
<circle cx="473.30" cy="551.0" r="2.6" fill="#e0301c" stroke="#b52212" stroke-width="0.6"/>
<rect x="482.60" y="495.22" width="8.20" height="5.28" fill="#f6b27e"/>
<text x="489.20" y="490.72" font-size="7" text-anchor="start" fill="#2a2a2a" stroke="#2a2a2a" stroke-width="0.22" transform="rotate(-90 489.20 490.72)">459</text>
<line x1="486.70" y1="510.20" x2="486.70" y2="551.00" stroke="#d8402a" stroke-width="1.5"/>
<circle cx="486.70" cy="510.2" r="2.6" fill="#e0301c" stroke="#b52212" stroke-width="0.6"/>
<circle cx="486.70" cy="520.4" r="2.6" fill="#e0301c" stroke="#b52212" stroke-width="0.6"/>
<circle cx="486.70" cy="530.6" r="2.6" fill="#e0301c" stroke="#b52212" stroke-width="0.6"/>
<circle cx="486.70" cy="540.8" r="2.6" fill="#e0301c" stroke="#b52212" stroke-width="0.6"/>
<circle cx="486.70" cy="551.0" r="2.6" fill="#e0301c" stroke="#b52212" stroke-width="0.6"/>
<path d="M371.2 383.3 L371.20 321.80 A61.5 61.5 0 0 1 379.29 444.27 Z" fill="#f4b6c2"/>
<path d="M371.2 383.3 L379.29 444.27 A61.5 61.5 0 0 1 342.12 437.49 Z" fill="#de9966"/>
<path d="M371.2 383.3 L342.12 437.49 A61.5 61.5 0 0 1 310.00 389.32 Z" fill="#7cbf74"/>
<path d="M371.2 383.3 L310.00 389.32 A61.5 61.5 0 0 1 321.08 347.65 Z" fill="#f9e65c"/>
<path d="M371.2 383.3 L321.08 347.65 A61.5 61.5 0 0 1 371.20 321.80 Z" fill="#129bdc"/>
<line x1="345.30" y1="337.50" x2="352.30" y2="349.00" stroke="#222" stroke-width="1.3"/>
<rect x="289.70" y="327.60" width="55.60" height="14.60" rx="1.8" fill="#fff" stroke="#2a2a2a" stroke-width="1.2"/>
<text x="317.50" y="337.40" font-size="7" text-anchor="middle" fill="#2a2a2a" stroke="#2a2a2a" stroke-width="0.22">A3SS: 15.2%</text>
<line x1="342.60" y1="374.50" x2="351.60" y2="375.20" stroke="#222" stroke-width="1.3"/>
<rect x="287.20" y="365.80" width="55.40" height="13.60" rx="1.8" fill="#fff" stroke="#2a2a2a" stroke-width="1.2"/>
<text x="314.90" y="375.10" font-size="7" text-anchor="middle" fill="#2a2a2a" stroke="#2a2a2a" stroke-width="0.22">A5SS: 11.4%</text>
<line x1="341.20" y1="405.50" x2="350.40" y2="400.60" stroke="#222" stroke-width="1.3"/>
<rect x="288.80" y="400.60" width="52.40" height="14.20" rx="1.8" fill="#fff" stroke="#2a2a2a" stroke-width="1.2"/>
<text x="315.00" y="410.20" font-size="7" text-anchor="middle" fill="#2a2a2a" stroke="#2a2a2a" stroke-width="0.22">MXE: 15.6%</text>
<line x1="365.00" y1="430.00" x2="367.20" y2="419.30" stroke="#222" stroke-width="1.3"/>
<rect x="335.50" y="429.70" width="49.40" height="13.50" rx="1.8" fill="#fff" stroke="#2a2a2a" stroke-width="1.2"/>
<text x="360.20" y="438.95" font-size="7" text-anchor="middle" fill="#2a2a2a" stroke="#2a2a2a" stroke-width="0.22">RI: 9.94%</text>
<line x1="373.80" y1="379.30" x2="377.70" y2="379.30" stroke="#222" stroke-width="1.3"/>
<rect x="377.70" y="372.30" width="47.70" height="14.30" rx="1.8" fill="#fff" stroke="#2a2a2a" stroke-width="1.2"/>
<text x="401.55" y="381.95" font-size="7" text-anchor="middle" fill="#2a2a2a" stroke="#2a2a2a" stroke-width="0.22">SE: 47.9%</text>
<text x="20.80" y="583.20" font-size="12" text-anchor="start" fill="#000" stroke="#000" stroke-width="0.22" font-weight="bold">H</text>
<line x1="46.90" y1="593.00" x2="46.90" y2="627.20" stroke="#222" stroke-width="1.4"/>
<line x1="43.90" y1="595.00" x2="46.90" y2="595.00" stroke="#222" stroke-width="1"/>
<text x="42.40" y="597.60" font-size="7.5" text-anchor="end" fill="#2a2a2a" stroke="#2a2a2a" stroke-width="0.22">70</text>
<line x1="43.90" y1="611.00" x2="46.90" y2="611.00" stroke="#222" stroke-width="1"/>
<text x="42.40" y="613.60" font-size="7.5" text-anchor="end" fill="#2a2a2a" stroke="#2a2a2a" stroke-width="0.22">60</text>
<line x1="43.90" y1="627.00" x2="46.90" y2="627.00" stroke="#222" stroke-width="1"/>
<text x="42.40" y="629.60" font-size="7.5" text-anchor="end" fill="#2a2a2a" stroke="#2a2a2a" stroke-width="0.22">50</text>
<line x1="46.90" y1="636.50" x2="46.90" y2="686.80" stroke="#222" stroke-width="1.4"/>
<line x1="43.90" y1="636.95" x2="46.90" y2="636.95" stroke="#222" stroke-width="1"/>
<text x="42.40" y="639.55" font-size="7.5" text-anchor="end" fill="#2a2a2a" stroke="#2a2a2a" stroke-width="0.22">25</text>
<line x1="43.90" y1="646.80" x2="46.90" y2="646.80" stroke="#222" stroke-width="1"/>
<text x="42.40" y="649.40" font-size="7.5" text-anchor="end" fill="#2a2a2a" stroke="#2a2a2a" stroke-width="0.22">20</text>
<line x1="43.90" y1="656.65" x2="46.90" y2="656.65" stroke="#222" stroke-width="1"/>
<text x="42.40" y="659.25" font-size="7.5" text-anchor="end" fill="#2a2a2a" stroke="#2a2a2a" stroke-width="0.22">15</text>
<line x1="43.90" y1="666.50" x2="46.90" y2="666.50" stroke="#222" stroke-width="1"/>
<text x="42.40" y="669.10" font-size="7.5" text-anchor="end" fill="#2a2a2a" stroke="#2a2a2a" stroke-width="0.22">10</text>
<line x1="43.90" y1="676.35" x2="46.90" y2="676.35" stroke="#222" stroke-width="1"/>
<text x="42.40" y="678.95" font-size="7.5" text-anchor="end" fill="#2a2a2a" stroke="#2a2a2a" stroke-width="0.22">5</text>
<line x1="43.90" y1="686.20" x2="46.90" y2="686.20" stroke="#222" stroke-width="1"/>
<text x="42.40" y="688.80" font-size="7.5" text-anchor="end" fill="#2a2a2a" stroke="#2a2a2a" stroke-width="0.22">0</text>
<line x1="46.30" y1="686.30" x2="200.60" y2="686.30" stroke="#222" stroke-width="1.5"/>
<rect x="49.30" y="598.20" width="14.60" height="28.40" fill="#e85a45"/>
<rect x="49.30" y="637.20" width="14.60" height="46.60" fill="#e85a45"/>
<text x="56.60" y="595.40" font-size="7.5" text-anchor="middle" fill="#2a2a2a" stroke="#2a2a2a" stroke-width="0.22">68</text>
<line x1="56.60" y1="686.80" x2="56.60" y2="689.80" stroke="#222" stroke-width="1"/>
<text x="59.20" y="692.20" font-size="7" text-anchor="end" fill="#383838" stroke="#383838" stroke-width="0.22" transform="rotate(-90 59.20 692.20)">B-ALL</text>
<rect x="66.08" y="603.20" width="14.60" height="23.40" fill="#e85a45"/>
<rect x="66.08" y="637.20" width="14.60" height="46.60" fill="#e85a45"/>
<text x="73.38" y="600.40" font-size="7.5" text-anchor="middle" fill="#2a2a2a" stroke="#2a2a2a" stroke-width="0.22">64</text>
<line x1="73.38" y1="686.80" x2="73.38" y2="689.80" stroke="#222" stroke-width="1"/>
<text x="75.98" y="692.20" font-size="7" text-anchor="end" fill="#383838" stroke="#383838" stroke-width="0.22" transform="rotate(-90 75.98 692.20)">aCML</text>
<rect x="82.86" y="646.37" width="14.60" height="37.43" fill="#e85a45"/>
<text x="90.16" y="643.57" font-size="7.5" text-anchor="middle" fill="#2a2a2a" stroke="#2a2a2a" stroke-width="0.22">21</text>
<line x1="90.16" y1="686.80" x2="90.16" y2="689.80" stroke="#222" stroke-width="1"/>
<text x="92.76" y="692.20" font-size="7" text-anchor="end" fill="#383838" stroke="#383838" stroke-width="0.22" transform="rotate(-90 92.76 692.20)">APL</text>
<rect x="99.64" y="660.82" width="14.60" height="22.98" fill="#e85a45"/>
<text x="106.94" y="658.02" font-size="7.5" text-anchor="middle" fill="#2a2a2a" stroke="#2a2a2a" stroke-width="0.22">13</text>
<line x1="106.94" y1="686.80" x2="106.94" y2="689.80" stroke="#222" stroke-width="1"/>
<text x="109.54" y="692.20" font-size="7" text-anchor="end" fill="#383838" stroke="#383838" stroke-width="0.22" transform="rotate(-90 109.54 692.20)">MDS</text>
<rect x="116.42" y="664.43" width="14.60" height="19.37" fill="#e85a45"/>
<text x="123.72" y="661.63" font-size="7.5" text-anchor="middle" fill="#2a2a2a" stroke="#2a2a2a" stroke-width="0.22">11</text>
<line x1="123.72" y1="686.80" x2="123.72" y2="689.80" stroke="#222" stroke-width="1"/>
<text x="126.32" y="692.20" font-size="7" text-anchor="end" fill="#383838" stroke="#383838" stroke-width="0.22" transform="rotate(-90 126.32 692.20)">CLL</text>
<rect x="133.20" y="666.24" width="14.60" height="17.56" fill="#e85a45"/>
<text x="140.50" y="663.44" font-size="7.5" text-anchor="middle" fill="#2a2a2a" stroke="#2a2a2a" stroke-width="0.22">10</text>
<line x1="140.50" y1="686.80" x2="140.50" y2="689.80" stroke="#222" stroke-width="1"/>
<text x="143.10" y="692.20" font-size="7" text-anchor="end" fill="#383838" stroke="#383838" stroke-width="0.22" transform="rotate(-90 143.10 692.20)">T-ALL</text>
<rect x="149.98" y="669.85" width="14.60" height="13.95" fill="#e85a45"/>
<text x="157.28" y="667.05" font-size="7.5" text-anchor="middle" fill="#2a2a2a" stroke="#2a2a2a" stroke-width="0.22">8</text>
<line x1="157.28" y1="686.80" x2="157.28" y2="689.80" stroke="#222" stroke-width="1"/>
<text x="159.88" y="692.20" font-size="7" text-anchor="end" fill="#383838" stroke="#383838" stroke-width="0.22" transform="rotate(-90 159.88 692.20)">Pre-B ALL</text>
<rect x="166.76" y="671.66" width="14.60" height="12.14" fill="#e85a45"/>
<text x="174.06" y="668.86" font-size="7.5" text-anchor="middle" fill="#2a2a2a" stroke="#2a2a2a" stroke-width="0.22">7</text>
<line x1="174.06" y1="686.80" x2="174.06" y2="689.80" stroke="#222" stroke-width="1"/>
<text x="176.66" y="692.20" font-size="7" text-anchor="end" fill="#383838" stroke="#383838" stroke-width="0.22" transform="rotate(-90 176.66 692.20)">AML</text>
<rect x="183.54" y="677.08" width="14.60" height="6.72" fill="#e85a45"/>
<text x="190.84" y="674.28" font-size="7.5" text-anchor="middle" fill="#2a2a2a" stroke="#2a2a2a" stroke-width="0.22">4</text>
<line x1="190.84" y1="686.80" x2="190.84" y2="689.80" stroke="#222" stroke-width="1"/>
<text x="193.44" y="692.20" font-size="7" text-anchor="end" fill="#383838" stroke="#383838" stroke-width="0.22" transform="rotate(-90 193.44 692.20)">CML</text>
<text x="217.50" y="582.80" font-size="12" text-anchor="start" fill="#000" stroke="#000" stroke-width="0.22" font-weight="bold">I</text>
<line x1="242.50" y1="589.70" x2="242.50" y2="614.80" stroke="#222" stroke-width="1.4"/>
<line x1="239.50" y1="592.30" x2="242.50" y2="592.30" stroke="#222" stroke-width="1"/>
<text x="238.00" y="594.90" font-size="7.5" text-anchor="end" fill="#2a2a2a" stroke="#2a2a2a" stroke-width="0.22">700</text>
<line x1="239.50" y1="614.60" x2="242.50" y2="614.60" stroke="#222" stroke-width="1"/>
<text x="238.00" y="617.20" font-size="7.5" text-anchor="end" fill="#2a2a2a" stroke="#2a2a2a" stroke-width="0.22">600</text>
<line x1="242.50" y1="622.80" x2="242.50" y2="686.80" stroke="#222" stroke-width="1.4"/>
<line x1="239.50" y1="623.40" x2="242.50" y2="623.40" stroke="#222" stroke-width="1"/>
<text x="238.00" y="626.00" font-size="7.5" text-anchor="end" fill="#2a2a2a" stroke="#2a2a2a" stroke-width="0.22">400</text>
<line x1="239.50" y1="638.80" x2="242.50" y2="638.80" stroke="#222" stroke-width="1"/>
<text x="238.00" y="641.40" font-size="7.5" text-anchor="end" fill="#2a2a2a" stroke="#2a2a2a" stroke-width="0.22">300</text>
<line x1="239.50" y1="654.30" x2="242.50" y2="654.30" stroke="#222" stroke-width="1"/>
<text x="238.00" y="656.90" font-size="7.5" text-anchor="end" fill="#2a2a2a" stroke="#2a2a2a" stroke-width="0.22">200</text>
<line x1="239.50" y1="669.60" x2="242.50" y2="669.60" stroke="#222" stroke-width="1"/>
<text x="238.00" y="672.20" font-size="7.5" text-anchor="end" fill="#2a2a2a" stroke="#2a2a2a" stroke-width="0.22">100</text>
<line x1="239.50" y1="684.20" x2="242.50" y2="684.20" stroke="#222" stroke-width="1"/>
<text x="238.00" y="686.80" font-size="7.5" text-anchor="end" fill="#2a2a2a" stroke="#2a2a2a" stroke-width="0.22">0</text>
<line x1="241.90" y1="686.20" x2="494.60" y2="686.20" stroke="#222" stroke-width="1.5"/>
<rect x="245.20" y="608.80" width="6.10" height="5.80" fill="#f5a01e"/>
<rect x="245.20" y="623.30" width="6.10" height="60.00" fill="#f5a01e"/>
<text x="250.15" y="606.50" font-size="7" text-anchor="start" fill="#2a2a2a" stroke="#2a2a2a" stroke-width="0.22" transform="rotate(-90 250.15 606.50)">662</text>
<line x1="248.25" y1="686.80" x2="248.25" y2="689.80" stroke="#222" stroke-width="1"/>
<text x="250.75" y="692.80" font-size="7.0" text-anchor="end" fill="#8f80c0" stroke="#8f80c0" stroke-width="0.22" transform="rotate(-90 250.75 692.80)">HL-60/S4</text>
<rect x="252.53" y="668.78" width="6.10" height="14.52" fill="#f5a01e"/>
<text x="257.48" y="666.48" font-size="7" text-anchor="start" fill="#2a2a2a" stroke="#2a2a2a" stroke-width="0.22" transform="rotate(-90 257.48 666.48)">103</text>
<line x1="255.58" y1="686.80" x2="255.58" y2="689.80" stroke="#222" stroke-width="1"/>
<text x="258.08" y="692.80" font-size="7.0" text-anchor="end" fill="#8f80c0" stroke="#8f80c0" stroke-width="0.22" transform="rotate(-90 258.08 692.80)">NB4</text>
<rect x="259.85" y="680.34" width="6.10" height="2.96" fill="#f5a01e"/>
<text x="264.80" y="678.04" font-size="7" text-anchor="start" fill="#2a2a2a" stroke="#2a2a2a" stroke-width="0.22" transform="rotate(-90 264.80 678.04)">21</text>
<line x1="262.90" y1="686.80" x2="262.90" y2="689.80" stroke="#222" stroke-width="1"/>
<text x="265.40" y="692.80" font-size="7.0" text-anchor="end" fill="#8f80c0" stroke="#8f80c0" stroke-width="0.22" transform="rotate(-90 265.40 692.80)">HL-60</text>
<rect x="267.18" y="635.36" width="6.10" height="47.94" fill="#f5a01e"/>
<text x="272.13" y="633.06" font-size="7" text-anchor="start" fill="#2a2a2a" stroke="#2a2a2a" stroke-width="0.22" transform="rotate(-90 272.13 633.06)">340</text>
<line x1="270.23" y1="686.80" x2="270.23" y2="689.80" stroke="#222" stroke-width="1"/>
<text x="272.73" y="692.80" font-size="7.0" text-anchor="end" fill="#4cc8e0" stroke="#4cc8e0" stroke-width="0.22" transform="rotate(-90 272.73 692.80)">UT-7</text>
<rect x="274.50" y="640.44" width="6.10" height="42.86" fill="#f5a01e"/>
<text x="279.45" y="638.14" font-size="7" text-anchor="start" fill="#2a2a2a" stroke="#2a2a2a" stroke-width="0.22" transform="rotate(-90 279.45 638.14)">304</text>
<line x1="277.55" y1="686.80" x2="277.55" y2="689.80" stroke="#222" stroke-width="1"/>
<text x="280.05" y="692.80" font-size="7.0" text-anchor="end" fill="#e84848" stroke="#e84848" stroke-width="0.22" transform="rotate(-90 280.05 692.80)">KOPTK1</text>
<rect x="281.83" y="644.38" width="6.10" height="38.92" fill="#f5a01e"/>
<text x="286.78" y="642.08" font-size="7" text-anchor="start" fill="#2a2a2a" stroke="#2a2a2a" stroke-width="0.22" transform="rotate(-90 286.78 642.08)">276</text>
<line x1="284.88" y1="686.80" x2="284.88" y2="689.80" stroke="#222" stroke-width="1"/>
<text x="287.38" y="692.80" font-size="7.0" text-anchor="end" fill="#e84848" stroke="#e84848" stroke-width="0.22" transform="rotate(-90 287.38 692.80)">HPB-ALL</text>
<rect x="289.16" y="671.88" width="6.10" height="11.42" fill="#f5a01e"/>
<text x="294.11" y="669.58" font-size="7" text-anchor="start" fill="#2a2a2a" stroke="#2a2a2a" stroke-width="0.22" transform="rotate(-90 294.11 669.58)">81</text>
<line x1="292.21" y1="686.80" x2="292.21" y2="689.80" stroke="#222" stroke-width="1"/>
<text x="294.71" y="692.80" font-size="7.0" text-anchor="end" fill="#e84848" stroke="#e84848" stroke-width="0.22" transform="rotate(-90 294.71 692.80)">Jurkat E6.1</text>
<rect x="296.48" y="674.13" width="6.10" height="9.16" fill="#f5a01e"/>
<text x="301.43" y="671.84" font-size="7" text-anchor="start" fill="#2a2a2a" stroke="#2a2a2a" stroke-width="0.22" transform="rotate(-90 301.43 671.84)">65</text>
<line x1="299.53" y1="686.80" x2="299.53" y2="689.80" stroke="#222" stroke-width="1"/>
<text x="302.03" y="692.80" font-size="7.0" text-anchor="end" fill="#e84848" stroke="#e84848" stroke-width="0.22" transform="rotate(-90 302.03 692.80)">CCRF-CEM</text>
<rect x="303.81" y="678.79" width="6.10" height="4.51" fill="#f5a01e"/>
<text x="308.76" y="676.49" font-size="7" text-anchor="start" fill="#2a2a2a" stroke="#2a2a2a" stroke-width="0.22" transform="rotate(-90 308.76 676.49)">32</text>
<line x1="306.86" y1="686.80" x2="306.86" y2="689.80" stroke="#222" stroke-width="1"/>
<text x="309.36" y="692.80" font-size="7.0" text-anchor="end" fill="#e84848" stroke="#e84848" stroke-width="0.22" transform="rotate(-90 309.36 692.80)">CEM</text>
<rect x="311.13" y="679.77" width="6.10" height="3.52" fill="#f5a01e"/>
<text x="316.08" y="677.48" font-size="7" text-anchor="start" fill="#2a2a2a" stroke="#2a2a2a" stroke-width="0.22" transform="rotate(-90 316.08 677.48)">25</text>
<line x1="314.18" y1="686.80" x2="314.18" y2="689.80" stroke="#222" stroke-width="1"/>
<text x="316.68" y="692.80" font-size="7.0" text-anchor="end" fill="#e84848" stroke="#e84848" stroke-width="0.22" transform="rotate(-90 316.68 692.80)">CUTLL1</text>
<rect x="318.46" y="680.90" width="6.10" height="2.40" fill="#f5a01e"/>
<text x="323.41" y="678.60" font-size="7" text-anchor="start" fill="#2a2a2a" stroke="#2a2a2a" stroke-width="0.22" transform="rotate(-90 323.41 678.60)">17</text>
<line x1="321.51" y1="686.80" x2="321.51" y2="689.80" stroke="#222" stroke-width="1"/>
<text x="324.01" y="692.80" font-size="7.0" text-anchor="end" fill="#e84848" stroke="#e84848" stroke-width="0.22" transform="rotate(-90 324.01 692.80)">MOLT-3</text>
<rect x="325.79" y="682.70" width="6.10" height="0.60" fill="#f5a01e"/>
<text x="330.74" y="680.40" font-size="7" text-anchor="start" fill="#2a2a2a" stroke="#2a2a2a" stroke-width="0.22" transform="rotate(-90 330.74 680.40)">2</text>
<line x1="328.84" y1="686.80" x2="328.84" y2="689.80" stroke="#222" stroke-width="1"/>
<text x="331.34" y="692.80" font-size="7.0" text-anchor="end" fill="#e84848" stroke="#e84848" stroke-width="0.22" transform="rotate(-90 331.34 692.80)">Jurkat</text>
<rect x="333.11" y="654.11" width="6.10" height="29.19" fill="#f5a01e"/>
<text x="338.06" y="651.81" font-size="7" text-anchor="start" fill="#2a2a2a" stroke="#2a2a2a" stroke-width="0.22" transform="rotate(-90 338.06 651.81)">207</text>
<line x1="336.16" y1="686.80" x2="336.16" y2="689.80" stroke="#222" stroke-width="1"/>
<text x="338.66" y="692.80" font-size="7.0" text-anchor="end" fill="#9a9a9a" stroke="#9a9a9a" stroke-width="0.22" transform="rotate(-90 338.66 692.80)">REH</text>
<rect x="340.44" y="681.04" width="6.10" height="2.26" fill="#f5a01e"/>
<text x="345.39" y="678.74" font-size="7" text-anchor="start" fill="#2a2a2a" stroke="#2a2a2a" stroke-width="0.22" transform="rotate(-90 345.39 678.74)">16</text>
<line x1="343.49" y1="686.80" x2="343.49" y2="689.80" stroke="#222" stroke-width="1"/>
<text x="345.99" y="692.80" font-size="7.0" text-anchor="end" fill="#9a9a9a" stroke="#9a9a9a" stroke-width="0.22" transform="rotate(-90 345.99 692.80)">NALM-6</text>
<rect x="347.76" y="666.24" width="6.10" height="17.06" fill="#f5a01e"/>
<text x="352.71" y="663.94" font-size="7" text-anchor="start" fill="#2a2a2a" stroke="#2a2a2a" stroke-width="0.22" transform="rotate(-90 352.71 663.94)">121</text>
<line x1="350.81" y1="686.80" x2="350.81" y2="689.80" stroke="#222" stroke-width="1"/>
<text x="353.31" y="692.80" font-size="7.0" text-anchor="end" fill="#9a9a9a" stroke="#9a9a9a" stroke-width="0.22" transform="rotate(-90 353.31 692.80)">697</text>
<rect x="355.09" y="668.35" width="6.10" height="14.95" fill="#f5a01e"/>
<text x="360.04" y="666.05" font-size="7" text-anchor="start" fill="#2a2a2a" stroke="#2a2a2a" stroke-width="0.22" transform="rotate(-90 360.04 666.05)">106</text>
<line x1="358.14" y1="686.80" x2="358.14" y2="689.80" stroke="#222" stroke-width="1"/>
<text x="360.64" y="692.80" font-size="7.0" text-anchor="end" fill="#9a9a9a" stroke="#9a9a9a" stroke-width="0.22" transform="rotate(-90 360.64 692.80)">RCH-ACV</text>
<rect x="362.42" y="674.70" width="6.10" height="8.60" fill="#f5a01e"/>
<text x="367.37" y="672.40" font-size="7" text-anchor="start" fill="#2a2a2a" stroke="#2a2a2a" stroke-width="0.22" transform="rotate(-90 367.37 672.40)">61</text>
<line x1="365.47" y1="686.80" x2="365.47" y2="689.80" stroke="#222" stroke-width="1"/>
<text x="367.97" y="692.80" font-size="7.0" text-anchor="end" fill="#9a9a9a" stroke="#9a9a9a" stroke-width="0.22" transform="rotate(-90 367.97 692.80)">CEMO-1</text>
<rect x="369.74" y="680.62" width="6.10" height="2.68" fill="#f5a01e"/>
<text x="374.69" y="678.32" font-size="7" text-anchor="start" fill="#2a2a2a" stroke="#2a2a2a" stroke-width="0.22" transform="rotate(-90 374.69 678.32)">19</text>
<line x1="372.79" y1="686.80" x2="372.79" y2="689.80" stroke="#222" stroke-width="1"/>
<text x="375.29" y="692.80" font-size="7.0" text-anchor="end" fill="#9a9a9a" stroke="#9a9a9a" stroke-width="0.22" transform="rotate(-90 375.29 692.80)">RS4;11</text>
<rect x="377.07" y="671.74" width="6.10" height="11.56" fill="#f5a01e"/>
<text x="382.02" y="669.44" font-size="7" text-anchor="start" fill="#2a2a2a" stroke="#2a2a2a" stroke-width="0.22" transform="rotate(-90 382.02 669.44)">82</text>
<line x1="380.12" y1="686.80" x2="380.12" y2="689.80" stroke="#222" stroke-width="1"/>
<text x="382.62" y="692.80" font-size="7.0" text-anchor="end" fill="#4db85a" stroke="#4db85a" stroke-width="0.22" transform="rotate(-90 382.62 692.80)">MOLM-14</text>
<rect x="384.39" y="673.57" width="6.10" height="9.73" fill="#f5a01e"/>
<text x="389.34" y="671.27" font-size="7" text-anchor="start" fill="#2a2a2a" stroke="#2a2a2a" stroke-width="0.22" transform="rotate(-90 389.34 671.27)">69</text>
<line x1="387.44" y1="686.80" x2="387.44" y2="689.80" stroke="#222" stroke-width="1"/>
<text x="389.94" y="692.80" font-size="7.0" text-anchor="end" fill="#4db85a" stroke="#4db85a" stroke-width="0.22" transform="rotate(-90 389.94 692.80)">KASUMI-1</text>
<rect x="391.72" y="680.06" width="6.10" height="3.24" fill="#f5a01e"/>
<text x="396.67" y="677.76" font-size="7" text-anchor="start" fill="#2a2a2a" stroke="#2a2a2a" stroke-width="0.22" transform="rotate(-90 396.67 677.76)">23</text>
<line x1="394.77" y1="686.80" x2="394.77" y2="689.80" stroke="#222" stroke-width="1"/>
<text x="397.27" y="692.80" font-size="7.0" text-anchor="end" fill="#4db85a" stroke="#4db85a" stroke-width="0.22" transform="rotate(-90 397.27 692.80)">ME-1</text>
<rect x="399.05" y="680.34" width="6.10" height="2.96" fill="#f5a01e"/>
<text x="404.00" y="678.04" font-size="7" text-anchor="start" fill="#2a2a2a" stroke="#2a2a2a" stroke-width="0.22" transform="rotate(-90 404.00 678.04)">21</text>
<line x1="402.10" y1="686.80" x2="402.10" y2="689.80" stroke="#222" stroke-width="1"/>
<text x="404.60" y="692.80" font-size="7.0" text-anchor="end" fill="#4db85a" stroke="#4db85a" stroke-width="0.22" transform="rotate(-90 404.60 692.80)">MOLM-13</text>
<rect x="406.37" y="672.87" width="6.10" height="10.43" fill="#f5a01e"/>
<text x="411.32" y="670.57" font-size="7" text-anchor="start" fill="#2a2a2a" stroke="#2a2a2a" stroke-width="0.22" transform="rotate(-90 411.32 670.57)">74</text>
<line x1="409.42" y1="686.80" x2="409.42" y2="689.80" stroke="#222" stroke-width="1"/>
<text x="411.92" y="692.80" font-size="7.0" text-anchor="end" fill="#4db85a" stroke="#4db85a" stroke-width="0.22" transform="rotate(-90 411.92 692.80)">F-36P</text>
<rect x="413.70" y="673.43" width="6.10" height="9.87" fill="#f5a01e"/>
<text x="418.65" y="671.13" font-size="7" text-anchor="start" fill="#2a2a2a" stroke="#2a2a2a" stroke-width="0.22" transform="rotate(-90 418.65 671.13)">70</text>
<line x1="416.75" y1="686.80" x2="416.75" y2="689.80" stroke="#222" stroke-width="1"/>
<text x="419.25" y="692.80" font-size="7.0" text-anchor="end" fill="#4a9ad8" stroke="#4a9ad8" stroke-width="0.22" transform="rotate(-90 419.25 692.80)">KCL-22</text>
<rect x="421.02" y="678.37" width="6.10" height="4.93" fill="#f5a01e"/>
<text x="425.97" y="676.07" font-size="7" text-anchor="start" fill="#2a2a2a" stroke="#2a2a2a" stroke-width="0.22" transform="rotate(-90 425.97 676.07)">35</text>
<line x1="424.07" y1="686.80" x2="424.07" y2="689.80" stroke="#222" stroke-width="1"/>
<text x="426.57" y="692.80" font-size="7.0" text-anchor="end" fill="#4a9ad8" stroke="#4a9ad8" stroke-width="0.22" transform="rotate(-90 426.57 692.80)">K562</text>
<rect x="428.35" y="678.93" width="6.10" height="4.37" fill="#f5a01e"/>
<text x="433.30" y="676.63" font-size="7" text-anchor="start" fill="#2a2a2a" stroke="#2a2a2a" stroke-width="0.22" transform="rotate(-90 433.30 676.63)">31</text>
<line x1="431.40" y1="686.80" x2="431.40" y2="689.80" stroke="#222" stroke-width="1"/>
<text x="433.90" y="692.80" font-size="7.0" text-anchor="end" fill="#4a9ad8" stroke="#4a9ad8" stroke-width="0.22" transform="rotate(-90 433.90 692.80)">MEG-01</text>
<rect x="435.68" y="680.90" width="6.10" height="2.40" fill="#f5a01e"/>
<text x="440.63" y="678.60" font-size="7" text-anchor="start" fill="#2a2a2a" stroke="#2a2a2a" stroke-width="0.22" transform="rotate(-90 440.63 678.60)">17</text>
<line x1="438.73" y1="686.80" x2="438.73" y2="689.80" stroke="#222" stroke-width="1"/>
<text x="441.23" y="692.80" font-size="7.0" text-anchor="end" fill="#4a9ad8" stroke="#4a9ad8" stroke-width="0.22" transform="rotate(-90 441.23 692.80)">HAP-1</text>
<rect x="443.00" y="682.70" width="6.10" height="0.60" fill="#f5a01e"/>
<text x="447.95" y="680.40" font-size="7" text-anchor="start" fill="#2a2a2a" stroke="#2a2a2a" stroke-width="0.22" transform="rotate(-90 447.95 680.40)">4</text>
<line x1="446.05" y1="686.80" x2="446.05" y2="689.80" stroke="#222" stroke-width="1"/>
<text x="448.55" y="692.80" font-size="7.0" text-anchor="end" fill="#4a9ad8" stroke="#4a9ad8" stroke-width="0.22" transform="rotate(-90 448.55 692.80)">KU812</text>
<rect x="450.33" y="674.28" width="6.10" height="9.02" fill="#f5a01e"/>
<text x="455.28" y="671.98" font-size="7" text-anchor="start" fill="#2a2a2a" stroke="#2a2a2a" stroke-width="0.22" transform="rotate(-90 455.28 671.98)">64</text>
<line x1="453.38" y1="686.80" x2="453.38" y2="689.80" stroke="#222" stroke-width="1"/>
<text x="455.88" y="692.80" font-size="7.0" text-anchor="end" fill="#f3c08a" stroke="#f3c08a" stroke-width="0.22" transform="rotate(-90 455.88 692.80)">JJN3</text>
<rect x="457.65" y="675.54" width="6.10" height="7.75" fill="#f5a01e"/>
<text x="462.60" y="673.25" font-size="7" text-anchor="start" fill="#2a2a2a" stroke="#2a2a2a" stroke-width="0.22" transform="rotate(-90 462.60 673.25)">55</text>
<line x1="460.70" y1="686.80" x2="460.70" y2="689.80" stroke="#222" stroke-width="1"/>
<text x="463.20" y="692.80" font-size="7.0" text-anchor="end" fill="#e690cc" stroke="#e690cc" stroke-width="0.22" transform="rotate(-90 463.20 692.80)">SEM</text>
<rect x="464.98" y="676.95" width="6.10" height="6.34" fill="#f5a01e"/>
<text x="469.93" y="674.65" font-size="7" text-anchor="start" fill="#2a2a2a" stroke="#2a2a2a" stroke-width="0.22" transform="rotate(-90 469.93 674.65)">45</text>
<line x1="468.03" y1="686.80" x2="468.03" y2="689.80" stroke="#222" stroke-width="1"/>
<text x="470.53" y="692.80" font-size="7.0" text-anchor="end" fill="#eca640" stroke="#eca640" stroke-width="0.22" transform="rotate(-90 470.53 692.80)">ML-2</text>
<rect x="472.31" y="677.24" width="6.10" height="6.06" fill="#f5a01e"/>
<text x="477.26" y="674.94" font-size="7" text-anchor="start" fill="#2a2a2a" stroke="#2a2a2a" stroke-width="0.22" transform="rotate(-90 477.26 674.94)">43</text>
<line x1="475.36" y1="686.80" x2="475.36" y2="689.80" stroke="#222" stroke-width="1"/>
<text x="477.86" y="692.80" font-size="7.0" text-anchor="end" fill="#eca640" stroke="#eca640" stroke-width="0.22" transform="rotate(-90 477.86 692.80)">THP-1</text>
<rect x="479.63" y="679.21" width="6.10" height="4.09" fill="#f5a01e"/>
<text x="484.58" y="676.91" font-size="7" text-anchor="start" fill="#2a2a2a" stroke="#2a2a2a" stroke-width="0.22" transform="rotate(-90 484.58 676.91)">29</text>
<line x1="482.68" y1="686.80" x2="482.68" y2="689.80" stroke="#222" stroke-width="1"/>
<text x="485.18" y="692.80" font-size="7.0" text-anchor="end" fill="#eca640" stroke="#eca640" stroke-width="0.22" transform="rotate(-90 485.18 692.80)">U937</text>
<rect x="486.96" y="681.61" width="6.10" height="1.69" fill="#f5a01e"/>
<text x="491.91" y="679.31" font-size="7" text-anchor="start" fill="#2a2a2a" stroke="#2a2a2a" stroke-width="0.22" transform="rotate(-90 491.91 679.31)">12</text>
<line x1="490.01" y1="686.80" x2="490.01" y2="689.80" stroke="#222" stroke-width="1"/>
<text x="492.51" y="692.80" font-size="7.0" text-anchor="end" fill="#eca640" stroke="#eca640" stroke-width="0.22" transform="rotate(-90 492.51 692.80)">MV4-11</text>
</svg>
</body></html>
